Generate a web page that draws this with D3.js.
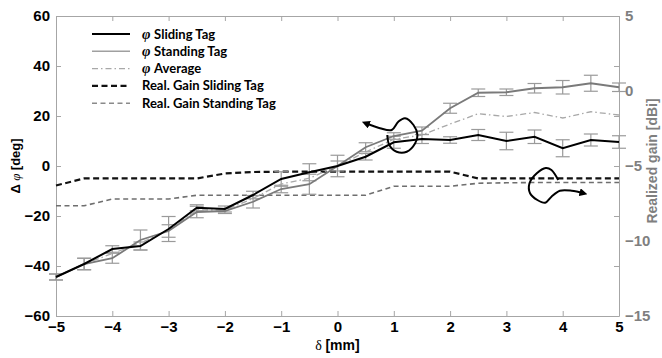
<!DOCTYPE html>
<html>
<head>
<meta charset="utf-8">
<script src="https://cdn.jsdelivr.net/npm/d3@7/dist/d3.min.js"></script>
<style>
  body { margin: 0; background: #fff; }
  svg { display: block; font-family: 'Liberation Sans', Arial, sans-serif; }
  .axis .tick text { font-weight: bold; font-size: 15px; }
  .axis .domain, .axis .tick line { stroke: #a6a6a6; }
</style>
</head>
<body>
<svg id="chart" width="662" height="358"></svg>
<script>
// displacement [mm]
const delta = [-5, -4.5, -4, -3.5, -3, -2.5, -2, -1.5, -1, -0.5, 0, 0.5, 1, 1.5, 2, 2.5, 3, 3.5, 4, 4.5, 5]

// phase difference [deg]
const phiSliding = [-44.4, -39.2, -33.2, -32.0, -25.2, -16.7, -17.2, -11.6, -5.2, -2.5, 0, 3.7, 9.5, 10.8, 10.4, 12.4, 10.0, 11.7, 7.1, 10.4, 9.6]
const phiStanding = [-44.4, -39.2, -36.9, -29.6, -26.0, -18.4, -18.0, -14.3, -9.2, -7.3, 0, 7.5, 12.0, 14.1, 23.1, 29.3, 29.5, 31.1, 31.5, 33.1, 31.5]
const phiAverage = [-44.4, -39.2, -35.0, -30.8, -25.6, -17.6, -17.6, -13.0, -7.2, -4.9, 0, 5.6, 10.7, 12.4, 16.8, 20.9, 19.8, 21.4, 19.2, 21.7, 20.4]
const errSliding = [1.2, 2.3, 1.3, 1.6, 5.0, 1.2, 1.2, 1.5, 2.9, 3.4, 2.0, 1.3, 2.4, 1.8, 1.3, 2.2, 3.5, 2.7, 3.4, 2.4, 2.5]
const errStanding = [1.2, 2.3, 2.0, 4.0, 2.5, 2.3, 1.0, 2.5, 1.5, 4.0, 4.3, 1.8, 1.3, 1.5, 2.0, 1.5, 1.3, 1.9, 2.7, 3.2, 1.7]

// realized gain [dBi]
const gainSliding = [-6.3, -5.83, -5.83, -5.83, -5.83, -5.83, -5.5, -5.4, -5.38, -5.38, -5.38, -5.38, -5.38, -5.38, -5.38, -5.83, -5.83, -5.83, -5.83, -5.83, -5.83]
const gainStanding = [-7.65, -7.65, -7.2, -7.2, -7.2, -6.95, -6.95, -6.95, -6.95, -6.95, -6.95, -6.95, -6.35, -6.35, -6.35, -6.15, -6.12, -6.1, -6.1, -6.1, -6.1]

// tick values
const xTicks = [-5, -4, -3, -2, -1, 0, 1, 2, 3, 4, 5]
const phiTicks = [-60, -40, -20, 0, 20, 40, 60]
const gainTicks = [-15, -10, -5, 0, 5]

const legendLabels = ['φ Sliding Tag', 'φ Standing Tag', 'φ Average', 'Real. Gain Sliding Tag', 'Real. Gain Standing Tag']

// hand drawn axis hints, in (mm, deg)
const hintPhi = [[0.885, 12.4], [0.92, 8.4], [1.05, 5.7], [1.23, 5.7], [1.38, 9.1], [1.42, 12.4], [1.35, 16.4], [1.2, 19.1], [1.08, 17.7], [0.963, 14.4], [0.755, 15.1], [0.5, 17.1]]
const hintGain = [[3.92, -5.6], [3.8, -1.6], [3.7, -0.8], [3.54, -2.9], [3.41, -6.9], [3.42, -10.9], [3.55, -13.6], [3.69, -14.7], [3.8, -12.3], [3.95, -9.9], [4.16, -9.9], [4.37, -10.9]]

const c = {
  width: 662,
  height: 358,
  margin: { top: 16, right: 43, bottom: 42, left: 56 },
  capHalf: 7,
}

const svg = d3.select('#chart')
const x = d3.scaleLinear([-5, 5], [c.margin.left, c.width - c.margin.right])
const yL = d3.scaleLinear([-60, 60], [c.height - c.margin.bottom, c.margin.top])
const yR = d3.scaleLinear([-15, 5], [c.height - c.margin.bottom, c.margin.top])

svg.append('defs')
  .append('marker')
  .attr('id', 'arrow')
  .attr('viewBox', '0 0 10 10')
  .attr('refX', 5)
  .attr('refY', 5)
  .attr('markerWidth', 4)
  .attr('markerHeight', 4)
  .attr('orient', 'auto')
  .append('path')
  .attr('d', 'M0,0L10,5L0,10z')
  .attr('fill', '#000')

// Axes
svg.append('g')
  .attr('class', 'axis')
  .attr('transform', `translate(0,${ c.margin.top })`)
  .call(d3.axisTop(x).tickValues(xTicks).tickSize(-5).tickSizeOuter(0).tickFormat(''))

svg.append('g')
  .attr('class', 'axis x-axis')
  .attr('transform', `translate(0,${ c.height - c.margin.bottom })`)
  .call(d3.axisBottom(x).tickValues(xTicks).tickSize(-5).tickSizeOuter(0).tickPadding(5))
  .selectAll('.tick text')
  .attr('fill', '#000')

svg.append('g')
  .attr('class', 'axis y-axis')
  .attr('transform', `translate(${ c.margin.left },0)`)
  .call(d3.axisLeft(yL).tickValues(phiTicks).tickSize(-5).tickSizeOuter(0).tickPadding(6))
  .selectAll('.tick text')
  .attr('fill', '#000')

const right = c.width - c.margin.right
svg.append('g')
  .attr('class', 'axis')
  .attr('transform', `translate(${ right },0)`)
  .call(d3.axisRight(yL).tickValues(phiTicks).tickSize(-5).tickSizeOuter(0).tickFormat(''))

svg.append('g')
  .attr('class', 'axis y2-axis')
  .attr('transform', `translate(${ right },0)`)
  .call(d3.axisRight(yR).tickValues(gainTicks).tickSize(0).tickPadding(6))
  .call((g) => g.select('.domain').remove())
  .selectAll('.tick text')
  .attr('fill', '#7f7f7f')

// Gain lines
const gainLine = (vals) => d3.line().x((d, i) => x(delta[i])).y((d) => yR(d))(vals)

svg.append('path')
  .attr('d', gainLine(gainStanding))
  .attr('fill', 'none')
  .attr('stroke', '#6f6f6f')
  .attr('stroke-width', 1.6)
  .attr('stroke-dasharray', '5,3.5')

svg.append('path')
  .attr('d', gainLine(gainSliding))
  .attr('fill', 'none')
  .attr('stroke', '#111')
  .attr('stroke-width', 2.2)
  .attr('stroke-dasharray', '6,3.5')

// Error bars
const errorBars = (vals, errs) => {
  const g = svg.append('g').attr('stroke', '#9a9a9a').attr('stroke-width', 1.2)
  const pts = vals.map((v, i) => ({ d: delta[i], lo: v - errs[i], hi: v + errs[i] }))
  g.selectAll('line.v').data(pts).join('line').classed('v', true)
    .attr('x1', (p) => x(p.d)).attr('x2', (p) => x(p.d))
    .attr('y1', (p) => yL(p.lo)).attr('y2', (p) => yL(p.hi))
  g.selectAll('line.lo').data(pts).join('line').classed('lo', true)
    .attr('x1', (p) => x(p.d) - c.capHalf).attr('x2', (p) => x(p.d) + c.capHalf)
    .attr('y1', (p) => yL(p.lo)).attr('y2', (p) => yL(p.lo))
  g.selectAll('line.hi').data(pts).join('line').classed('hi', true)
    .attr('x1', (p) => x(p.d) - c.capHalf).attr('x2', (p) => x(p.d) + c.capHalf)
    .attr('y1', (p) => yL(p.hi)).attr('y2', (p) => yL(p.hi))
}
errorBars(phiStanding, errStanding)
errorBars(phiSliding, errSliding)

// Phase lines
const phiLine = (vals) => d3.line().x((d, i) => x(delta[i])).y((d) => yL(d))(vals)

svg.append('path')
  .attr('d', phiLine(phiAverage))
  .attr('fill', 'none')
  .attr('stroke', '#a8a8a8')
  .attr('stroke-width', 1.3)
  .attr('stroke-dasharray', '6,3,1.5,3')

svg.append('path')
  .attr('d', phiLine(phiStanding))
  .attr('fill', 'none')
  .attr('stroke', '#7a7a7a')
  .attr('stroke-width', 1.8)

svg.append('path')
  .attr('d', phiLine(phiSliding))
  .attr('fill', 'none')
  .attr('stroke', '#000')
  .attr('stroke-width', 2)

// Hand drawn hints
const hint = d3.line().x((p) => x(p[0])).y((p) => yL(p[1])).curve(d3.curveCatmullRom)
;[hintPhi, hintGain].forEach((pts) => {
  svg.append('path')
    .attr('d', hint(pts))
    .attr('fill', 'none')
    .attr('stroke', '#000')
    .attr('stroke-width', 2)
    .attr('marker-end', 'url(#arrow)')
})

// Legend
const legendStyles = [
  { stroke: '#000', width: 2, dash: null },
  { stroke: '#a0a0a0', width: 1.5, dash: null },
  { stroke: '#a8a8a8', width: 1.3, dash: '6,3,1.5,3' },
  { stroke: '#111', width: 2.2, dash: '6,3.5' },
  { stroke: '#8a8a8a', width: 1.6, dash: '5,3.5' },
]
const legend = svg.append('g').attr('transform', 'translate(92,34)')
const rows = legend.selectAll('g').data(legendLabels).join('g')
  .attr('transform', (d, i) => `translate(0,${ i * 17.3 })`)
rows.append('line')
  .attr('x1', 0).attr('x2', 38)
  .attr('stroke', (d, i) => legendStyles[i].stroke)
  .attr('stroke-width', (d, i) => legendStyles[i].width)
  .attr('stroke-dasharray', (d, i) => legendStyles[i].dash)
const lt = rows.append('text')
  .attr('x', 50).attr('y', 4.5)
  .attr('font-family', 'Lato, sans-serif')
  .attr('font-weight', 'bold')
  .attr('font-size', 13)
lt.filter((d) => d.startsWith('φ')).append('tspan')
  .attr('font-family', 'Liberation Serif, serif')
  .attr('font-style', 'italic')
  .attr('font-size', 14.5)
  .text('φ ')
lt.append('tspan').text((d) => d.replace('φ ', ''))

// Axis labels
const xl = svg.append('text')
  .attr('x', (c.margin.left + right) / 2).attr('y', 350)
  .attr('text-anchor', 'middle').attr('font-size', 14).attr('font-weight', 'bold')
xl.append('tspan').attr('font-family', 'Liberation Serif, serif').attr('font-weight', 'normal').text('δ ')
xl.append('tspan').text('[mm]')

const yl = svg.append('text')
  .attr('transform', 'translate(20,166) rotate(-90)')
  .attr('text-anchor', 'middle').attr('font-size', 13).attr('font-weight', 'bold')
yl.append('tspan').text('Δ ')
yl.append('tspan').attr('font-family', 'Liberation Serif, serif').attr('font-style', 'italic').attr('font-weight', 'normal').text('φ ')
yl.append('tspan').text('[deg]')

svg.append('text')
  .attr('transform', 'translate(657,161) rotate(-90)')
  .attr('text-anchor', 'middle').attr('font-size', 14).attr('font-weight', 'bold')
  .attr('fill', '#7f7f7f')
  .text('Realized gain [dBi]')
</script>
</body>
</html>
